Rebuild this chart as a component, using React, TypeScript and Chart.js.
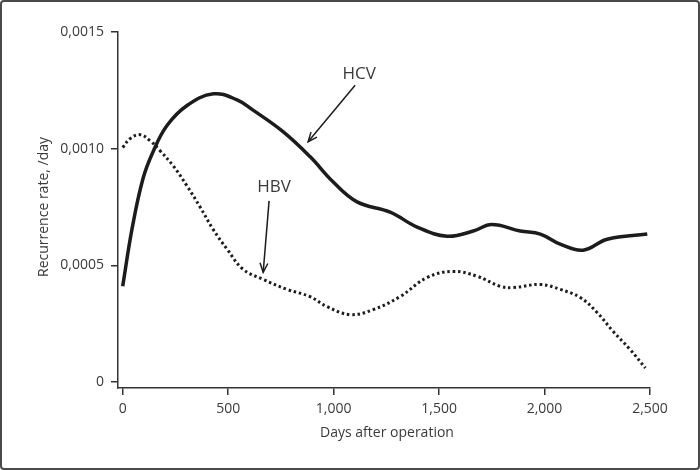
import React, { useEffect, useRef } from 'react';
import { Chart, registerables } from 'chart.js';
Chart.register(...registerables);

const hcvDays = [0, 44, 96, 144, 210, 305, 430, 540, 618, 760, 888, 997, 1111, 1268, 1396, 1538, 1662, 1750, 1885, 1980, 2074, 2183, 2297, 2487];
const hcvRates = [0.00041, 0.000655, 0.000871, 0.000987, 0.001099, 0.001185, 0.001235, 0.00121, 0.001165, 0.001073, 0.000966, 0.000858, 0.000772, 0.000728, 0.000664, 0.000625, 0.000647, 0.000675, 0.000647, 0.000634, 0.000591, 0.000565, 0.000612, 0.000634];

const hbvDays = [0, 35, 82, 130, 177, 239, 305, 367, 428, 495, 571, 665, 779, 888, 969, 1078, 1187, 1315, 1444, 1567, 1681, 1790, 1852, 1980, 2074, 2169, 2250, 2326, 2407, 2478];
const hbvRates = [0.001005, 0.001043, 0.00106, 0.001034, 0.000991, 0.000927, 0.00084, 0.00075, 0.000655, 0.000569, 0.000483, 0.00044, 0.000397, 0.000366, 0.000323, 0.000289, 0.00031, 0.000366, 0.000448, 0.000474, 0.000453, 0.00041, 0.000405, 0.000418, 0.000397, 0.000362, 0.000297, 0.000216, 0.000138, 0.00006];

const xTickValues = [0, 500, 1000, 1500, 2000, 2500];
const xTickLabels = ['0', '500', '1,000', '1,500', '2,000', '2,500'];
const yTickValues = [0, 0.0005, 0.001, 0.0015];
const yTickLabels = ['0', '0,0005', '0,0010', '0,0015'];

const xTitle = 'Days after operation';
const yTitle = 'Recurrence rate, /day';

// annotation anchors in data coordinates [day, rate]
const hcvLabel = { text: 'HCV', at: [1121, 0.001319], from: [1102, 0.001272], to: [879, 0.00103] };
const hbvLabel = { text: 'HBV', at: [718, 0.000836], from: [694, 0.000776], to: [666, 0.00047] };

const TEXT = '#3a3a3a';
const INK = '#1c1c1c';

const overlayPlugin = {
  id: 'overlay',
  afterDraw(chart: any) {
    const { ctx, chartArea, scales } = chart;
    const xs = scales.x;
    const ys = scales.y;
    ctx.save();
    ctx.fillStyle = TEXT;
    ctx.font = '14px "Open Sans"';
    ctx.textAlign = 'center';
    ctx.textBaseline = 'middle';
    ctx.fillText(xTitle, (chartArea.left + chartArea.right) / 2 + 3, 433);
    ctx.save();
    ctx.translate(44, (chartArea.top + chartArea.bottom) / 2 - 3);
    ctx.rotate(-Math.PI / 2);
    ctx.fillText(yTitle, 0, 0);
    ctx.restore();

    for (const a of [hcvLabel, hbvLabel]) {
      ctx.font = '17px "Open Sans"';
      ctx.fillStyle = TEXT;
      ctx.fillText(a.text, xs.getPixelForValue(a.at[0]), ys.getPixelForValue(a.at[1]));
      const x1 = xs.getPixelForValue(a.from[0]);
      const y1 = ys.getPixelForValue(a.from[1]);
      const x2 = xs.getPixelForValue(a.to[0]);
      const y2 = ys.getPixelForValue(a.to[1]);
      ctx.strokeStyle = INK;
      ctx.lineWidth = 1.5;
      ctx.beginPath();
      ctx.moveTo(x1, y1);
      ctx.lineTo(x2, y2);
      ctx.stroke();
      const ang = Math.atan2(y2 - y1, x2 - x1);
      const len = 10;
      const spread = 0.4;
      ctx.beginPath();
      ctx.moveTo(x2 - len * Math.cos(ang - spread), y2 - len * Math.sin(ang - spread));
      ctx.lineTo(x2, y2);
      ctx.lineTo(x2 - len * Math.cos(ang + spread), y2 - len * Math.sin(ang + spread));
      ctx.stroke();
    }
    ctx.restore();
  },
};

export default function App() {
  const ref = useRef<HTMLCanvasElement | null>(null);
  useEffect(() => {
    if (!ref.current) return;
    const chart = new Chart(ref.current, {
      type: 'line',
      data: {
        datasets: [
          {
            label: 'HCV',
            data: hcvDays.map((d, i) => ({ x: d, y: hcvRates[i] })),
            borderColor: INK,
            borderWidth: 3.5,
            pointRadius: 0,
            tension: 0.4,
            fill: false,
          },
          {
            label: 'HBV',
            data: hbvDays.map((d, i) => ({ x: d, y: hbvRates[i] })),
            borderColor: INK,
            borderWidth: 3,
            borderDash: [2.5, 2.8],
            pointRadius: 0,
            tension: 0.4,
            fill: false,
          },
        ],
      },
      options: {
        animation: false,
        responsive: false,
        maintainAspectRatio: false,
        layout: { padding: { left: 0, top: 32, right: 50, bottom: 0 } },
        plugins: { legend: { display: false }, tooltip: { enabled: false } },
        scales: {
          x: {
            type: 'linear',
            min: -22.3,
            max: 2500,
            afterFit: (s: any) => { s.height = 82; },
            afterBuildTicks: (s: any) => { s.ticks = xTickValues.map((v) => ({ value: v })); },
            ticks: {
              callback: (_v: any, i: number) => xTickLabels[i],
              font: { family: 'Open Sans', size: 14 },
              color: TEXT,
              padding: 6,
              maxRotation: 0,
              autoSkip: false,
            },
            grid: { drawOnChartArea: false, drawTicks: true, tickLength: 7, color: '#333', lineWidth: 1.5 },
            border: { display: true, color: '#333', width: 1.5 },
          },
          y: {
            type: 'linear',
            min: -0.0000257,
            max: 0.0015,
            afterFit: (s: any) => { s.width = 118; },
            afterBuildTicks: (s: any) => { s.ticks = yTickValues.map((v) => ({ value: v })); },
            ticks: {
              callback: (_v: any, i: number) => yTickLabels[i],
              font: { family: 'Open Sans', size: 14 },
              color: TEXT,
              padding: 7,
              autoSkip: false,
            },
            grid: { drawOnChartArea: false, drawTicks: true, tickLength: 7, color: '#333', lineWidth: 1.5 },
            border: { display: true, color: '#333', width: 1.5 },
          },
        },
      } as any,
      plugins: [overlayPlugin],
    });
    return () => chart.destroy();
  }, []);

  return (
    <div style={{ position: 'fixed', left: 0, top: 0, width: 700, height: 470, background: '#fff' }}>
      <canvas ref={ref} width={700} height={470} style={{ display: 'block', width: 700, height: 470 }} />
      <div
        style={{
          position: 'absolute',
          left: 0,
          top: 0,
          width: 700,
          height: 470,
          boxSizing: 'border-box',
          border: '2px solid #4a4a4a',
          borderRadius: 4,
          pointerEvents: 'none',
        }}
      />
    </div>
  );
}
